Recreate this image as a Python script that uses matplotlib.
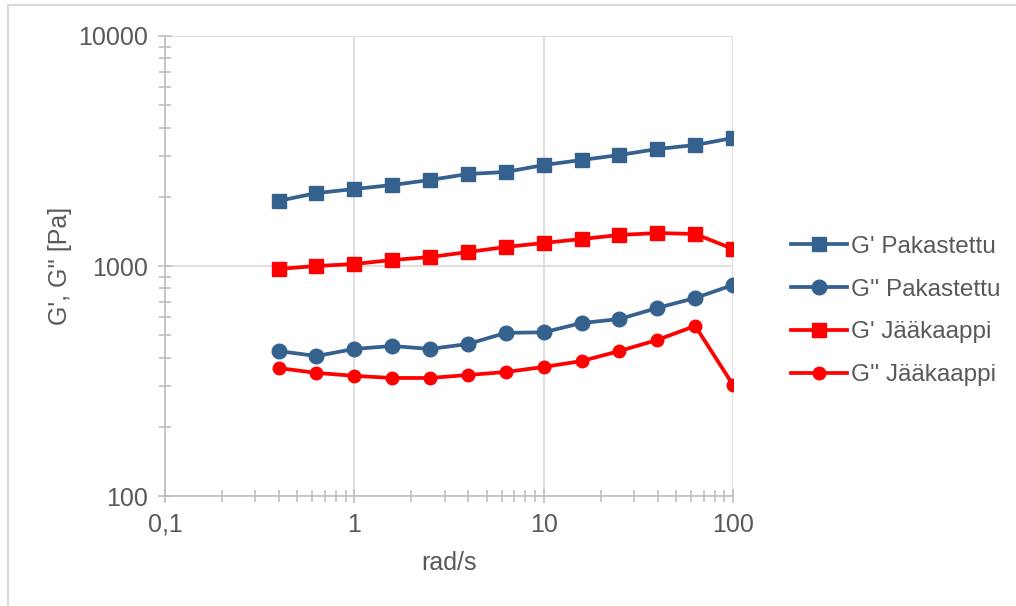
import matplotlib.pyplot as plt
import matplotlib.ticker as mtick
from matplotlib.patches import Rectangle

plt.rcParams['font.family'] = ['Liberation Sans', 'DejaVu Sans']

# angular frequency (rad/s)
freq = [0.398, 0.631, 1.0, 1.585, 2.512, 3.981, 6.31, 10.0, 15.85, 25.12, 39.81, 63.1, 100.0]

g1_pak = [1919, 2076, 2161, 2250, 2366, 2512, 2563, 2748, 2890, 3038, 3226, 3357, 3603]
g2_pak = [427, 406, 436, 449, 436, 458, 512, 515, 565, 588, 657, 726, 827]
g1_jaa = [971, 1000, 1020, 1062, 1094, 1150, 1210, 1259, 1310, 1364, 1391, 1378, 1186]
g2_jaa = [360, 343, 333, 326, 326, 336, 346, 364, 386, 427, 477, 549, 304]

labels = ["G' Pakastettu", "G'' Pakastettu", "G' Jääkaappi", "G'' Jääkaappi"]
xticklabels = ['0,1', '1', '10', '100']
yticklabels = ['100', '1000', '10000']

blue = '#35618F'
red = '#FF0000'
grey = '#595959'

fig = plt.figure(figsize=(10.16, 6.06), dpi=100)
ax = fig.add_axes([0.1624, 0.1815, 0.5591, 0.7591])

# excel-style chart border (right/bottom edges fall outside the image)
fig.patches.append(Rectangle((8 / 1016, -0.1), 1.2, 1.1 - 5 / 606, transform=fig.transFigure,
                             fill=False, edgecolor='#D9D9D9', linewidth=1.5))

ax.plot(freq, g1_pak, color=blue, marker='s', ms=10, lw=2.7, label=labels[0])
ax.plot(freq, g2_pak, color=blue, marker='o', ms=10.5, lw=2.7, label=labels[1])
ax.plot(freq, g1_jaa, color=red, marker='s', ms=10, lw=2.7, label=labels[2])
ax.plot(freq, g2_jaa, color=red, marker='o', ms=9, lw=2.7, label=labels[3])

ax.set_xscale('log')
ax.set_yscale('log')
ax.set_xlim(0.1, 100)
ax.set_ylim(100, 10000)

ax.xaxis.set_major_locator(mtick.FixedLocator([0.1, 1, 10, 100]))
ax.xaxis.set_major_formatter(mtick.FixedFormatter(xticklabels))
ax.yaxis.set_major_locator(mtick.FixedLocator([100, 1000, 10000]))
ax.yaxis.set_major_formatter(mtick.FixedFormatter(yticklabels))
ax.xaxis.set_minor_locator(mtick.LogLocator(base=10, subs=range(2, 10), numticks=20))
ax.yaxis.set_minor_locator(mtick.LogLocator(base=10, subs=range(2, 10), numticks=20))
ax.xaxis.set_minor_formatter(mtick.NullFormatter())
ax.yaxis.set_minor_formatter(mtick.NullFormatter())

ax.grid(True, which='major', color='#D9D9D9', lw=1.2)
ax.set_axisbelow(True)
for s in ['top', 'right']:
    ax.spines[s].set_visible(False)
for s in ['left', 'bottom']:
    ax.spines[s].set_color('#BFBFBF')
    ax.spines[s].set_linewidth(1.2)

ax.tick_params(which='both', direction='inout', color='#BFBFBF', width=1.2,
               labelsize=18, labelcolor=grey)
ax.tick_params(which='major', length=10, pad=7)
ax.tick_params(which='minor', length=8)

ax.set_xlabel('rad/s', fontsize=18, color=grey, labelpad=10)
ax.set_ylabel("G', G'' [Pa]", fontsize=18, color=grey, labelpad=5)

leg = ax.legend(loc='center left', bbox_to_anchor=(0.767, 1 - 311 / 606),
                bbox_transform=fig.transFigure, frameon=False,
                fontsize=17.5, labelcolor=grey, handlelength=2.3, handletextpad=0.15,
                labelspacing=0.85, borderpad=0)

plt.savefig('out.png', dpi=100)
